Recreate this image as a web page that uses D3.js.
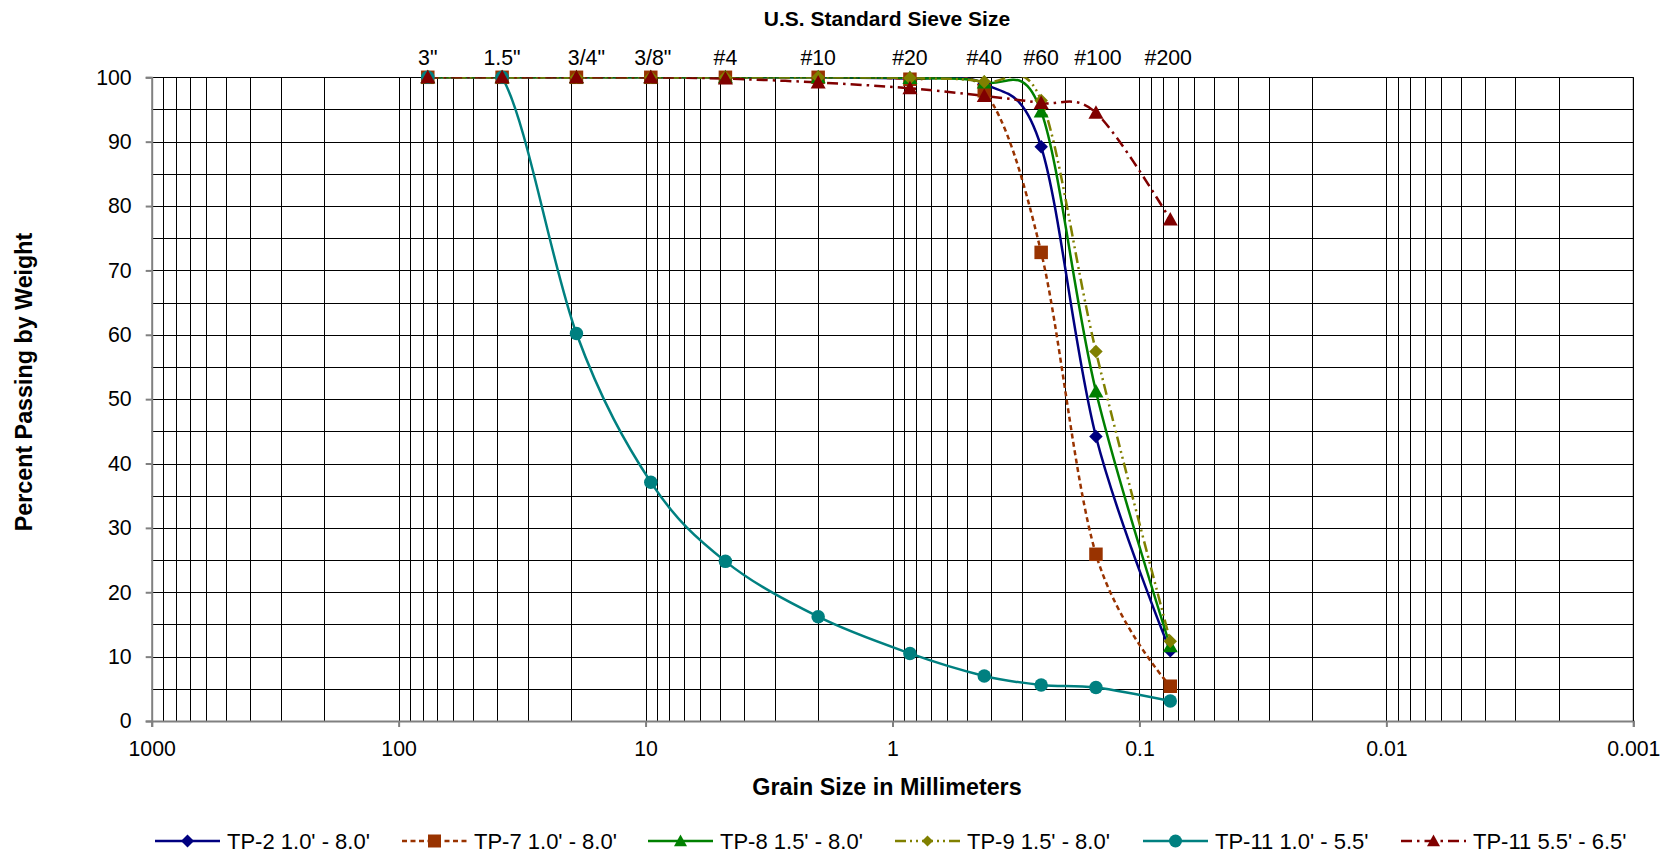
<!DOCTYPE html>
<html><head><meta charset="utf-8">
<script src="https://cdn.jsdelivr.net/npm/d3@7"></script>
<style>body{margin:0;background:#fff;overflow:hidden} text{font-family:"Liberation Sans",Arial,Helvetica,sans-serif;fill:#000}</style>
</head><body><svg id="c" width="1673" height="858"></svg>
<script>
// ---- data ----
const sieveLabels = ['3"', '1.5"', '3/4"', '3/8"', '#4', '#10', '#20', '#40', '#60', '#100', '#200'];
const sieveSizes  = [76.2, 38.1, 19.05, 9.525, 4.75, 2.0, 0.85, 0.425, 0.25, 0.15, 0.075];
const xTickValues = [1000, 100, 10, 1, 0.1, 0.01, 0.001];
const yTickValues = [0, 10, 20, 30, 40, 50, 60, 70, 80, 90, 100];
const seriesNames = ["TP-2 1.0' - 8.0'", "TP-7 1.0' - 8.0'", "TP-8 1.5' - 8.0'", "TP-9 1.5' - 8.0'", "TP-11 1.0' - 5.5'", "TP-11 5.5' - 6.5'"];
const tp2   = [100, 100, 100, 100, 100, 100, 99.8, 99.0, 89.2, 44.2, 10.9];
const tp7   = [100, 100, 100, 100, 100, 100, 99.7, 97.9, 72.8, 25.9, 5.4];
const tp8   = [100, 100, 100, 100, 100, 100, 99.9, 99.2, 94.7, 51.2, 11.6];
const tp9   = [100, 100, 100, 100, 100, 100, 99.9, 99.3, 96.4, 57.4, 12.4];
const tp11a = [100, 100, 60.2, 37.1, 24.8, 16.2, 10.5, 7.0, 5.6, 5.2, 3.1];
const tp11b = [100, 100, 100, 100, 99.8, 99.2, 98.3, 97.1, 96.0, 94.5, 77.9];
const seriesValues = [tp2, tp7, tp8, tp9, tp11a, tp11b];

// ---- styles ----
const colors  = ["#000080", "#993300", "#008000", "#808000", "#008080", "#800000"];
const dashes  = [null, "5,3.5", null, "11,4,2,4,2,4", null, "11,5,2.5,5"];
const shapes  = ["diamond", "square", "triangle", "diamond", "circle", "triangle"];
const markerSize = [13.5, 13.5, 15, 13.5, 13.5, 15];
const labelNudge = [0, 0, 10, 2, 0, 0, 0, 0, 0, 2, -2];

const svg = d3.select("#c");
const X0 = 151.7, X1 = 1633.3, Y0 = 77.3, Y1 = 721;
const x = d3.scaleLog().domain([1000, 0.001]).range([X0, X1]);
const y = d3.scaleLinear().domain([0, 100]).range([Y1, Y0]);

svg.append("defs").append("clipPath").attr("id", "pc").append("rect")
  .attr("x", X0).attr("y", Y0).attr("width", X1 - X0).attr("height", Y1 - Y0);

// grid
const g = svg.append("g");
g.selectAll("line.v").data(x.ticks()).join("line")
  .attr("x1", d => Math.round(x(d)) + 0.5).attr("x2", d => Math.round(x(d)) + 0.5)
  .attr("y1", Y0).attr("y2", Y1).attr("stroke", "#000").attr("stroke-width", 1);
g.selectAll("line.h").data(y.ticks(20)).join("line")
  .attr("y1", d => Math.round(y(d)) + 0.5).attr("y2", d => Math.round(y(d)) + 0.5)
  .attr("x1", X0).attr("x2", X1).attr("stroke", "#000").attr("stroke-width", 1);

// axes
const fontTick = "21.3px";
const ax = svg.append("g").attr("transform", `translate(0,${Y1})`)
  .call(d3.axisBottom(x).tickValues(xTickValues).tickFormat(d3.format("~g")).tickSize(6).tickPadding(14));
const ay = svg.append("g").attr("transform", `translate(${X0},0)`)
  .call(d3.axisLeft(y).tickValues(yTickValues).tickSize(6).tickPadding(14));
[ax, ay].forEach(a => {
  a.select(".domain").attr("stroke", "#808080").attr("stroke-width", 2);
  a.selectAll(".tick line").attr("stroke", "#808080").attr("stroke-width", 2);
  a.selectAll(".tick text").style("font-size", fontTick).style("font-family", '"Liberation Sans",Arial,sans-serif').attr("fill", "#000");
});
svg.append("line").attr("x1", X1).attr("x2", X1).attr("y1", Y0).attr("y2", Y1).attr("stroke", "#000");

// sieve labels (top)
svg.append("g").selectAll("text").data(sieveLabels).join("text")
  .attr("x", (d, i) => x(sieveSizes[i]) + labelNudge[i]).attr("y", 65)
  .attr("text-anchor", "middle").style("font-size", "21.3px").text(d => d);

// titles
svg.append("text").attr("x", 887).attr("y", 26).attr("text-anchor", "middle")
  .style("font-size", "21px").style("font-weight", "bold").text("U.S. Standard Sieve Size");
svg.append("text").attr("x", 887).attr("y", 795).attr("text-anchor", "middle")
  .style("font-size", "23.3px").style("font-weight", "bold").text("Grain Size in Millimeters");
svg.append("text").attr("transform", "translate(31.5,382) rotate(-90)").attr("text-anchor", "middle")
  .style("font-size", "23.3px").style("font-weight", "bold").text("Percent Passing by Weight");

function markerPath(shape, s) {
  const h = s / 2;
  if (shape === "diamond") return `M0,${-h}L${h},0L0,${h}L${-h},0Z`;
  if (shape === "square") return `M${-h},${-h}H${h}V${h}H${-h}Z`;
  if (shape === "triangle") return `M0,${-h}L${h},${h * 0.8}L${-h},${h * 0.8}Z`;
  return d3.arc()({innerRadius: 0, outerRadius: h, startAngle: 0, endAngle: 2 * Math.PI});
}

const line = d3.line().x(d => x(d[0])).y(d => y(d[1])).curve(d3.curveCatmullRom.alpha(0));
const lines = svg.append("g").attr("clip-path", "url(#pc)");
seriesValues.forEach((vals, si) => {
  const pts = vals.map((v, i) => [sieveSizes[i], v]);
  lines.append("path").attr("d", line(pts)).attr("fill", "none")
    .attr("stroke", colors[si]).attr("stroke-width", 2.5)
    .attr("stroke-dasharray", dashes[si]);
});
const marks = svg.append("g");
seriesValues.forEach((vals, si) => {
  marks.append("g").selectAll("path").data(vals).join("path")
    .attr("transform", (v, i) => `translate(${x(sieveSizes[i])},${y(v)})`)
    .attr("d", markerPath(shapes[si], markerSize[si])).attr("fill", colors[si]);
});

// legend
const legX = [155, 402, 648, 895, 1143, 1401];
const legY = 841;
const leg = svg.append("g");
seriesNames.forEach((name, si) => {
  const gx = leg.append("g").attr("transform", `translate(${legX[si]},${legY})`);
  gx.append("line").attr("x1", 0).attr("x2", 65).attr("y1", 0).attr("y2", 0)
    .attr("stroke", colors[si]).attr("stroke-width", 2.5).attr("stroke-dasharray", dashes[si]);
  gx.append("path").attr("transform", "translate(32.5,0)").attr("d", markerPath(shapes[si], si === 3 ? 11 : 13)).attr("fill", colors[si]);
  gx.append("text").attr("x", 72).attr("y", 0).attr("dy", "0.36em").style("font-size", "22px").text(name);
});
</script></body></html>
